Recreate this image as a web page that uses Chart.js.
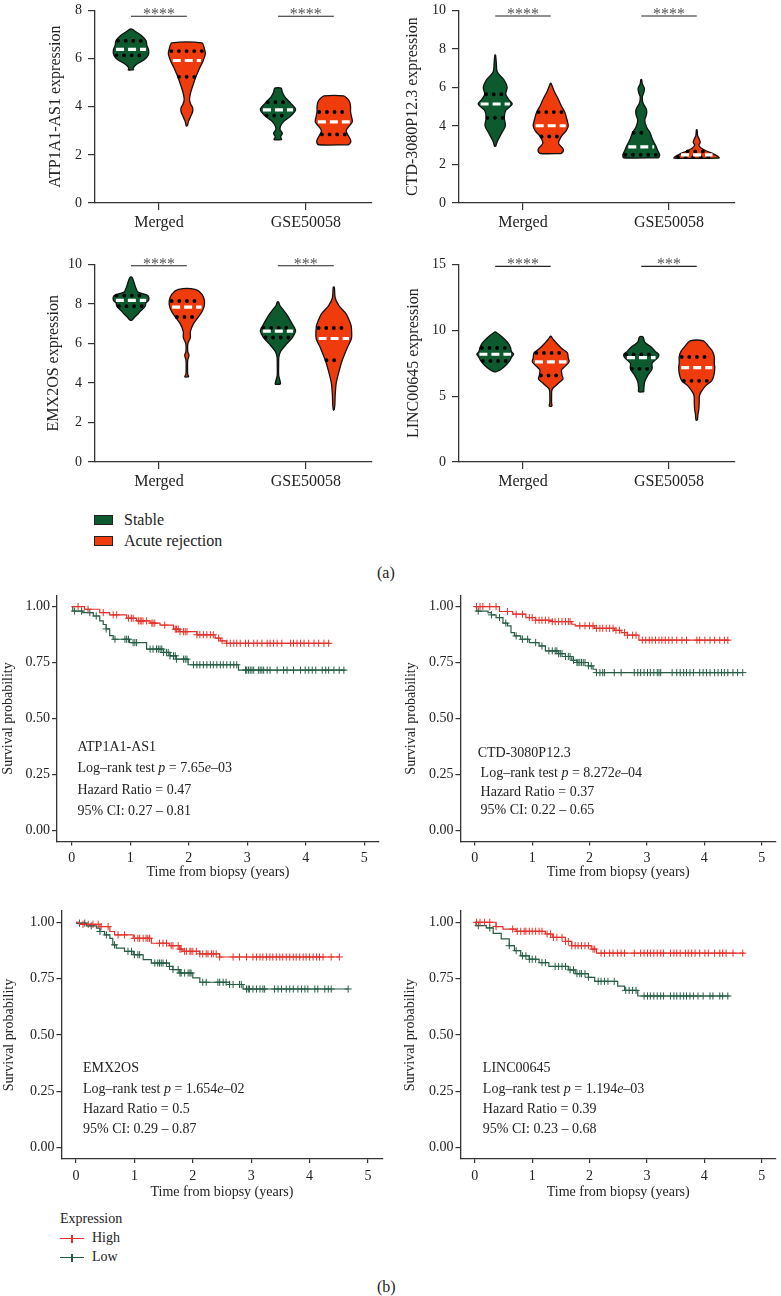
<!DOCTYPE html>
<html>
<head>
<meta charset="utf-8">
<script src="https://cdn.jsdelivr.net/npm/chart.js@4"></script>
<style>
  body { margin: 0; width: 781px; height: 1296px; position: relative; overflow: hidden; background: #fff;
         font-family: 'Liberation Serif', 'Times New Roman', serif; color: #222; }
  canvas { position: absolute; }
  .lbl { position: absolute; white-space: nowrap; line-height: 1; }
  .box { position: absolute; width: 19px; height: 10px; border: 1px solid #222; box-sizing: border-box; }
  .key { position: absolute; width: 24px; height: 1.2px; }
  .key::after { content: ''; position: absolute; left: 11.4px; top: -3.4px; width: 1.2px; height: 8px; background: inherit; }
</style>
</head>
<body>
<canvas id="vAtp"></canvas>
<canvas id="vCtd"></canvas>
<canvas id="vEmx"></canvas>
<canvas id="vLinc"></canvas>
<canvas id="kAtp"></canvas>
<canvas id="kCtd"></canvas>
<canvas id="kEmx"></canvas>
<canvas id="kLinc"></canvas>

<div class="box" style="left:94px;top:515px;background:#0c5a2d"></div>
<div class="lbl" style="left:124px;top:512px;font-size:16px">Stable</div>
<div class="box" style="left:94px;top:536px;background:#f03c0c"></div>
<div class="lbl" style="left:124px;top:533px;font-size:16px">Acute rejection</div>
<div class="lbl" style="left:377px;top:565px;font-size:16px">(a)</div>

<div class="lbl" style="left:60px;top:1212px;font-size:14px">Expression</div>
<div class="key" style="left:60px;top:1238px;background:#e5322b"></div>
<div class="lbl" style="left:92px;top:1231px;font-size:14px">High</div>
<div class="key" style="left:60px;top:1257px;background:#275d45"></div>
<div class="lbl" style="left:92px;top:1250px;font-size:14px">Low</div>
<div class="lbl" style="left:377px;top:1279px;font-size:16px">(b)</div>

<script>
const FONT = "'Liberation Serif', 'Times New Roman', serif";
const STABLE = '#0c5a2d', ACUTE = '#f03c0c';
const HIGH = '#e5322b', LOW = '#275d45';

// ---------------- violin data: levels (bottom -> top) and relative half-width ----------------
const groups = ['Merged', 'GSE50058'];

// ATP1A1-AS1
const atpMsY = [5.53, 5.6, 5.75, 5.95, 6.15, 6.35, 6.55, 6.75, 6.95, 7.1, 7.22];
const atpMsD = [0.15, 0.12, 0.3, 0.75, 0.98, 1.0, 0.9, 0.85, 0.6, 0.3, 0.05];
const atpMaY = [3.2, 3.4, 3.6, 3.8, 3.95, 4.1, 4.3, 4.6, 4.9, 5.25, 5.6, 5.9, 6.2, 6.45, 6.65];
const atpMaD = [0.03, 0.1, 0.22, 0.33, 0.33, 0.22, 0.15, 0.22, 0.35, 0.52, 0.72, 0.92, 1.05, 0.98, 0.85];
const atpGsY = [2.63, 2.75, 2.9, 3.05, 3.2, 3.4, 3.63, 3.88, 4.15, 4.4, 4.6, 4.77];
const atpGsD = [0.22, 0.15, 0.25, 0.12, 0.15, 0.35, 0.75, 1.0, 0.72, 0.4, 0.25, 0.18];
const atpGaY = [2.42, 2.55, 2.7, 2.85, 3.0, 3.15, 3.37, 3.6, 3.8, 4.0, 4.2, 4.35, 4.45];
const atpGaD = [0.85, 0.97, 0.9, 0.78, 0.7, 0.82, 1.05, 1.0, 0.95, 0.95, 0.9, 0.75, 0.55];
const atpQuart = [[6.13, 6.38, 6.74], [5.24, 5.92, 6.31], [3.63, 3.87, 4.19], [2.85, 3.37, 3.78]];
const atpYTicks = [0, 2, 4, 6, 8];
const atpStars = ['****', '****'];
const atpBarY = 7.76;

// CTD-3080P12.3
const ctdMsY = [2.94, 3.2, 3.6, 4.0, 4.42, 4.8, 5.14, 5.4, 5.65, 6.0, 6.4, 6.8, 7.3, 7.68];
const ctdMsD = [0.03, 0.12, 0.35, 0.58, 0.52, 0.6, 0.97, 0.75, 0.6, 0.68, 0.5, 0.12, 0.06, 0.02];
const ctdMaY = [2.57, 2.7, 2.85, 3.1, 3.45, 3.75, 4.0, 4.35, 4.72, 5.05, 5.4, 5.8, 6.21];
const ctdMaD = [0.6, 0.72, 0.68, 0.45, 0.6, 0.88, 1.0, 0.92, 0.8, 0.6, 0.43, 0.2, 0.02];
const ctdGsY = [2.35, 2.5, 2.7, 2.91, 3.1, 3.35, 3.65, 3.95, 4.3, 4.6, 4.85, 5.2, 5.5, 5.75, 5.95, 6.2, 6.41];
const ctdGsD = [1.0, 1.05, 0.95, 0.86, 0.75, 0.62, 0.5, 0.3, 0.2, 0.3, 0.3, 0.1, 0.06, 0.15, 0.18, 0.06, 0.02];
const ctdGaY = [2.33, 2.42, 2.55, 2.7, 2.85, 3.0, 3.15, 3.3, 3.5, 3.8];
const ctdGaD = [1.3, 1.2, 0.95, 0.55, 0.25, 0.12, 0.2, 0.15, 0.05, 0.02];
const ctdQuart = [[4.42, 5.14, 5.65], [3.45, 4.01, 4.72], [2.5, 2.91, 3.65], [2.38, 2.5, 2.68]];
const ctdYTicks = [0, 2, 4, 6, 8, 10];
const ctdStars = ['****', '****'];
const ctdBarY = 9.71;

// EMX2OS
const emxMsY = [7.17, 7.3, 7.45, 7.6, 7.88, 8.05, 8.18, 8.42, 8.6, 8.75, 8.95, 9.15, 9.36];
const emxMsD = [0.05, 0.18, 0.35, 0.5, 0.8, 0.85, 1.0, 0.95, 0.4, 0.3, 0.22, 0.15, 0.05];
const emxMaY = [4.31, 4.45, 4.8, 5.15, 5.4, 5.6, 6.0, 6.3, 6.6, 7.0, 7.34, 7.6, 7.84, 8.15, 8.5, 8.74];
const emxMaD = [0.12, 0.05, 0.04, 0.05, 0.12, 0.05, 0.06, 0.2, 0.2, 0.38, 0.66, 0.85, 0.97, 1.0, 0.85, 0.47];
const emxGsY = [3.94, 4.1, 4.4, 4.9, 5.3, 5.6, 6.0, 6.3, 6.62, 6.78, 7.0, 7.4, 7.7, 7.9, 8.1];
const emxGsD = [0.15, 0.12, 0.04, 0.04, 0.05, 0.15, 0.52, 0.82, 1.0, 0.95, 0.8, 0.55, 0.3, 0.12, 0.03];
const emxGaY = [2.63, 2.9, 3.4, 4.0, 4.6, 5.15, 5.8, 6.25, 6.78, 7.0, 7.5, 7.9, 8.3, 8.85];
const emxGaD = [0.02, 0.06, 0.08, 0.14, 0.3, 0.48, 0.77, 1.0, 1.0, 0.95, 0.7, 0.3, 0.08, 0.03];
const emxQuart = [[7.88, 8.18, 8.42], [7.34, 7.84, 8.15], [6.3, 6.62, 6.78], [5.15, 6.25, 6.78]];
const emxYTicks = [0, 2, 4, 6, 8, 10];
const emxStars = ['****', '***'];
const emxBarY = 9.93;

// LINC00645
const lincMsY = [6.84, 7.0, 7.3, 7.67, 8.0, 8.18, 8.4, 8.66, 9.0, 9.3, 9.6, 9.87];
const lincMsD = [0.05, 0.3, 0.58, 0.82, 0.95, 1.05, 0.92, 0.88, 0.75, 0.55, 0.3, 0.03];
const lincMaY = [4.24, 4.5, 5.0, 5.4, 5.6, 5.8, 6.0, 6.3, 6.57, 7.0, 7.3, 7.6, 7.9, 8.28, 8.6, 9.0, 9.3, 9.55];
const lincMaD = [0.08, 0.05, 0.05, 0.06, 0.12, 0.3, 0.45, 0.7, 0.65, 0.62, 0.85, 1.05, 1.0, 0.95, 0.65, 0.35, 0.15, 0.02];
const lincGsY = [5.33, 5.6, 6.1, 6.6, 7.07, 7.5, 7.93, 8.16, 8.4, 8.7, 9.1, 9.5];
const lincGsD = [0.15, 0.15, 0.2, 0.38, 0.62, 0.62, 0.95, 1.0, 0.8, 0.6, 0.2, 0.1];
const lincGaY = [3.18, 3.6, 4.0, 4.5, 5.0, 5.3, 5.8, 6.16, 6.6, 7.17, 7.5, 7.98, 8.4, 8.8, 9.19];
const lincGaD = [0.04, 0.07, 0.12, 0.14, 0.15, 0.24, 0.52, 0.85, 0.98, 1.03, 1.0, 1.0, 0.9, 0.66, 0.38];
const lincQuart = [[7.67, 8.18, 8.66], [6.57, 7.6, 8.28], [7.07, 7.93, 8.16], [6.16, 7.17, 7.98]];
const lincYTicks = [0, 5, 10, 15];
const lincStars = ['****', '***'];
const lincBarY = 14.85;

// ---------------- survival data: drop times, survival after drop, censor times ----------------
const kmXTicks = [0, 1, 2, 3, 4, 5];
const kmYTicks = [0, 0.25, 0.5, 0.75, 1];

const atpHighT = [0.22, 0.48, 0.65, 0.94, 1.11, 1.34, 1.51, 1.74, 1.85, 2.14, 2.45, 2.54, 2.65];
const atpHighS = [0.988, 0.973, 0.963, 0.948, 0.936, 0.926, 0.917, 0.899, 0.888, 0.874, 0.859, 0.847, 0.836];
const atpHighEnd = 4.42;
const atpHighCens = [0.11, 0.28, 0.54, 0.71, 0.77, 0.97, 1.02, 1.05, 1.14, 1.17, 1.19, 1.22, 1.28, 1.37, 1.39, 1.42, 1.59, 1.77, 1.79, 1.82, 1.85, 1.91, 1.94, 1.97, 2.14, 2.19, 2.25, 2.31, 2.37, 2.42, 2.51, 2.57, 2.65, 2.71, 2.77, 2.82, 2.88, 2.97, 3.02, 3.11, 3.17, 3.25, 3.34, 3.39, 3.45, 3.51, 3.59, 3.74, 3.79, 3.85, 3.91, 3.97, 4.05, 4.14, 4.22, 4.31, 4.39];
const atpLowT = [0.02, 0.19, 0.37, 0.48, 0.54, 0.59, 0.65, 0.71, 0.99, 1.28, 1.57, 1.68, 1.79, 1.99, 2.85];
const atpLowS = [0.98, 0.973, 0.958, 0.936, 0.92, 0.9, 0.87, 0.854, 0.839, 0.81, 0.795, 0.78, 0.765, 0.74, 0.716];
const atpLowEnd = 4.68;
const atpLowCens = [0.05, 0.17, 0.31, 0.42, 0.59, 0.74, 0.91, 0.94, 0.97, 1.05, 1.08, 1.11, 1.34, 1.39, 1.45, 1.48, 1.51, 1.54, 1.57, 1.62, 1.65, 1.68, 1.74, 1.77, 1.79, 1.91, 1.94, 1.97, 2.08, 2.14, 2.19, 2.25, 2.31, 2.37, 2.42, 2.48, 2.54, 2.59, 2.65, 2.71, 2.77, 2.82, 2.97, 2.99, 3.02, 3.05, 3.08, 3.11, 3.19, 3.22, 3.25, 3.28, 3.34, 3.39, 3.51, 3.62, 3.68, 3.79, 3.91, 3.99, 4.05, 4.11, 4.17, 4.28, 4.34, 4.39, 4.48, 4.57, 4.65];
const atpStats = ['ATP1A1-AS1', '7.65', '03', '0.47', '0.27', '0.81'];

const ctdHighT = [0.43, 0.66, 0.89, 1.06, 1.35, 1.69, 1.75, 2.09, 2.43, 2.55, 2.66, 2.86];
const ctdHighS = [0.978, 0.966, 0.951, 0.939, 0.933, 0.921, 0.914, 0.903, 0.894, 0.884, 0.872, 0.85];
const ctdHighEnd = 4.44;
const ctdHighCens = [0.03, 0.09, 0.14, 0.26, 0.37, 0.57, 0.72, 0.83, 0.95, 1.0, 1.06, 1.12, 1.17, 1.23, 1.29, 1.35, 1.4, 1.46, 1.52, 1.58, 1.63, 1.66, 1.83, 1.92, 2.0, 2.06, 2.12, 2.18, 2.23, 2.29, 2.35, 2.41, 2.46, 2.52, 2.61, 2.66, 2.75, 2.81, 2.92, 2.98, 3.04, 3.09, 3.15, 3.21, 3.26, 3.32, 3.38, 3.44, 3.52, 3.61, 3.69, 3.87, 3.92, 4.01, 4.1, 4.18, 4.27, 4.35, 4.41];
const ctdLowT = [0.03, 0.23, 0.29, 0.37, 0.49, 0.57, 0.63, 0.69, 0.8, 0.95, 1.12, 1.23, 1.46, 1.58, 1.69, 1.78, 1.98, 2.06, 2.12];
const ctdLowS = [0.98, 0.973, 0.963, 0.951, 0.926, 0.914, 0.884, 0.869, 0.854, 0.839, 0.824, 0.802, 0.79, 0.777, 0.76, 0.75, 0.735, 0.72, 0.705];
const ctdLowEnd = 4.67;
const ctdLowCens = [0.06, 0.29, 0.43, 0.54, 0.72, 0.83, 0.92, 1.06, 1.17, 1.29, 1.35, 1.4, 1.43, 1.46, 1.49, 1.52, 1.58, 1.63, 1.66, 1.72, 1.78, 1.8, 1.83, 1.86, 1.89, 1.92, 1.98, 2.03, 2.12, 2.18, 2.23, 2.26, 2.43, 2.55, 2.78, 2.84, 2.89, 2.95, 3.01, 3.06, 3.12, 3.18, 3.21, 3.24, 3.44, 3.52, 3.58, 3.64, 3.69, 3.75, 3.81, 3.92, 3.98, 4.04, 4.1, 4.18, 4.24, 4.3, 4.35, 4.41, 4.5, 4.58, 4.67];
const ctdStats = ['CTD-3080P12.3', '8.272', '04', '0.37', '0.22', '0.65'];

const emxHighT = [0.06, 0.41, 0.58, 0.66, 0.98, 1.29, 1.6, 1.78, 1.83, 2.12, 2.46];
const emxHighS = [0.991, 0.981, 0.959, 0.944, 0.929, 0.907, 0.896, 0.881, 0.871, 0.86, 0.846];
const emxHighEnd = 4.51;
const emxHighCens = [0.12, 0.21, 0.29, 0.38, 0.43, 0.55, 0.72, 0.83, 1.0, 1.06, 1.09, 1.15, 1.2, 1.23, 1.26, 1.43, 1.49, 1.55, 1.63, 1.66, 1.75, 1.78, 1.8, 1.86, 1.89, 1.95, 1.97, 2.0, 2.06, 2.12, 2.17, 2.23, 2.26, 2.32, 2.35, 2.4, 2.46, 2.69, 2.8, 2.92, 3.03, 3.09, 3.15, 3.2, 3.26, 3.32, 3.37, 3.43, 3.49, 3.54, 3.6, 3.66, 3.72, 3.77, 3.83, 3.89, 3.94, 4.0, 4.06, 4.12, 4.17, 4.23, 4.37, 4.51];
const emxLowT = [0.01, 0.18, 0.35, 0.41, 0.49, 0.58, 0.63, 0.69, 0.83, 0.98, 1.15, 1.29, 1.6, 1.66, 1.78, 2.0, 2.12, 2.63, 2.86];
const emxLowS = [0.996, 0.984, 0.974, 0.959, 0.944, 0.929, 0.9, 0.885, 0.871, 0.856, 0.834, 0.819, 0.804, 0.79, 0.775, 0.753, 0.734, 0.724, 0.704];
const emxLowEnd = 4.66;
const emxLowCens = [0.06, 0.15, 0.26, 0.41, 0.52, 0.66, 0.89, 0.95, 1.0, 1.06, 1.09, 1.35, 1.4, 1.43, 1.46, 1.49, 1.55, 1.6, 1.66, 1.75, 1.78, 1.8, 1.86, 1.92, 1.95, 1.97, 2.17, 2.23, 2.43, 2.46, 2.52, 2.57, 2.63, 2.69, 2.8, 2.83, 2.92, 2.95, 2.97, 3.03, 3.09, 3.15, 3.2, 3.23, 3.4, 3.46, 3.52, 3.6, 3.66, 3.72, 3.8, 3.86, 3.92, 3.97, 4.09, 4.14, 4.26, 4.32, 4.37, 4.66];
const emxStats = ['EMX2OS', '1.654', '02', '0.5', '0.29', '0.87'];

const lincHighT = [0.37, 0.49, 0.72, 1.23, 1.35, 1.58, 1.69, 2.03, 2.12];
const lincHighS = [0.981, 0.97, 0.96, 0.948, 0.933, 0.915, 0.896, 0.881, 0.863];
const lincHighEnd = 4.7;
const lincHighCens = [0.03, 0.09, 0.17, 0.26, 0.37, 0.66, 0.74, 0.8, 0.86, 0.89, 0.95, 1.0, 1.06, 1.12, 1.17, 1.26, 1.32, 1.37, 1.43, 1.52, 1.58, 1.63, 1.69, 1.75, 1.8, 1.86, 1.92, 1.98, 2.06, 2.09, 2.2, 2.26, 2.35, 2.41, 2.49, 2.55, 2.61, 2.78, 2.89, 2.95, 3.01, 3.06, 3.12, 3.18, 3.24, 3.29, 3.41, 3.47, 3.52, 3.58, 3.67, 3.72, 3.78, 3.84, 3.92, 4.01, 4.07, 4.18, 4.27, 4.32, 4.38, 4.5, 4.67];
const lincLowT = [0.02, 0.2, 0.32, 0.46, 0.6, 0.69, 0.8, 0.95, 1.12, 1.29, 1.63, 1.75, 1.98, 2.09, 2.49, 2.61, 2.84];
const lincLowS = [0.985, 0.975, 0.951, 0.926, 0.896, 0.874, 0.851, 0.836, 0.821, 0.804, 0.789, 0.772, 0.756, 0.738, 0.717, 0.698, 0.673];
const lincLowEnd = 4.44;
const lincLowCens = [0.06, 0.26, 0.6, 0.72, 0.83, 0.89, 0.95, 1.0, 1.06, 1.17, 1.23, 1.4, 1.46, 1.52, 1.58, 1.66, 1.72, 1.78, 1.83, 1.86, 1.92, 1.98, 2.15, 2.2, 2.26, 2.32, 2.43, 2.63, 2.69, 2.75, 2.81, 2.95, 3.01, 3.06, 3.12, 3.18, 3.24, 3.29, 3.41, 3.47, 3.52, 3.58, 3.64, 3.69, 3.75, 3.81, 3.89, 3.98, 4.1, 4.15, 4.27, 4.32, 4.41];
const lincStats = ['LINC00645', '1.194', '03', '0.39', '0.23', '0.68'];

// ---------------- helpers ----------------
Chart.defaults.font.family = FONT;
Chart.defaults.color = '#222';

// put a canvas at box and return padding / axis sizes so the plot area lands on area
function frame(id, box, area) {
  const c = document.getElementById(id);
  c.width = box.w; c.height = box.h;
  c.style.left = box.x + 'px'; c.style.top = box.y + 'px';
  return {
    canvas: c,
    padding: { left: 0, top: area.top - box.y, right: box.x + box.w - area.right, bottom: 0 },
    yWidth: area.left - box.x,
    xHeight: box.y + box.h - area.bottom
  };
}

const baseOptions = f => ({
  responsive: false,
  animation: false,
  events: [],
  layout: { padding: f.padding },
  plugins: { legend: { display: false }, tooltip: { enabled: false } }
});

const axisGrid = (len) => ({ display: true, drawOnChartArea: false, drawTicks: true, tickLength: len, color: '#333', lineWidth: 1.2 });
const axisBorder = { display: true, color: '#333', width: 1.3 };

// ---------------- violin panels ----------------
const HALF = 0.12;          // max half-width in x units
const SIDE = [-0.19, 0.19]; // stable left, acute right

function outline(cx, ys, ds) {
  const right = ys.map((y, i) => ({ x: cx + ds[i] * HALF, y }));
  const left = ys.map((y, i) => ({ x: cx - ds[i] * HALF, y })).reverse();
  return right.concat(left, [right[0]]);
}
function widthAt(ys, ds, v) {
  for (let i = 1; i < ys.length; i++) {
    if (v <= ys[i]) { const k = (v - ys[i - 1]) / (ys[i] - ys[i - 1]); return ds[i - 1] + k * (ds[i] - ds[i - 1]); }
  }
  return ds[ds.length - 1];
}

function violinPanel(id, box, area, xr, title, violins, quart, yTicks, stars, barY) {
  const f = frame(id, box, area);
  const sets = [];
  violins.forEach((v, k) => {
    const g = k >> 1, side = k & 1;
    const cx = g + 1 + SIDE[side];
    sets.push({ data: outline(cx, v[0], v[1]), fill: 'shape', backgroundColor: side ? ACUTE : STABLE,
      borderColor: '#111', borderWidth: 1.3, pointRadius: 0, tension: 0.3, order: 3 });
    quart[k].forEach((q, j) => {
      const w = widthAt(v[0], v[1], q) * HALF * 0.86;
      const med = j === 1;
      sets.push({ data: [{ x: cx - w, y: q }, { x: cx + w, y: q }], fill: false, pointRadius: 0,
        borderColor: med ? '#fff' : '#000', borderWidth: med ? 3.2 : 3.9,
        borderDash: med ? [8, 4] : [0, 7.6], borderCapStyle: med ? 'butt' : 'round', order: med ? 1 : 2 });
    });
  });
  groups.forEach((_, g) => {
    sets.push({ data: [{ x: g + 1 + SIDE[0], y: barY }, { x: g + 1 + SIDE[1], y: barY }], fill: false,
      pointRadius: 0, borderColor: '#222', borderWidth: 1.1, order: 0 });
  });

  const starPlugin = {
    id: 'stars',
    afterDatasetsDraw(chart) {
      const { ctx, scales: { x, y } } = chart;
      ctx.save();
      ctx.font = `16px ${FONT}`;
      ctx.fillStyle = '#555';
      ctx.textAlign = 'center';
      ctx.textBaseline = 'alphabetic';
      stars.forEach((s, i) => ctx.fillText(s, x.getPixelForValue(i + 1), y.getPixelForValue(barY) + 3));
      ctx.restore();
    }
  };

  const opts = baseOptions(f);
  opts.scales = {
    x: {
      type: 'linear', min: xr[0], max: xr[1],
      afterFit: s => { s.height = f.xHeight; },
      afterBuildTicks: s => { s.ticks = groups.map((_, i) => ({ value: i + 1 })); },
      ticks: { callback: (v, i) => groups[i], font: { size: 16 }, color: '#222', padding: 3.5, maxRotation: 0, autoSkip: false },
      grid: axisGrid(7), border: axisBorder
    },
    y: {
      min: yTicks[0], max: yTicks[yTicks.length - 1],
      afterFit: s => { s.width = f.yWidth; },
      afterBuildTicks: s => { s.ticks = yTicks.map(v => ({ value: v })); },
      ticks: { font: { size: 14 }, color: '#222', padding: 6 },
      grid: axisGrid(7), border: axisBorder,
      title: { display: true, text: title, font: { size: 16 }, color: '#222', padding: { top: 0, bottom: 0 } }
    }
  };
  new Chart(f.canvas, { type: 'line', data: { datasets: sets }, options: opts, plugins: [starPlugin] });
}

violinPanel('vAtp', { x: 46, y: -4, w: 344, h: 240 }, { left: 95, top: 6, right: 372, bottom: 203 }, [0.565, 2.45],
  'ATP1A1-AS1 expression', [[atpMsY, atpMsD], [atpMaY, atpMaD], [atpGsY, atpGsD], [atpGaY, atpGaD]],
  atpQuart, atpYTicks, atpStars, atpBarY);
violinPanel('vCtd', { x: 403, y: -4, w: 378, h: 240 }, { left: 459, top: 6, right: 735, bottom: 203 }, [0.562, 2.452],
  'CTD-3080P12.3 expression', [[ctdMsY, ctdMsD], [ctdMaY, ctdMaD], [ctdGsY, ctdGsD], [ctdGaY, ctdGaD]],
  ctdQuart, ctdYTicks, ctdStars, ctdBarY);
violinPanel('vEmx', { x: 44, y: 250, w: 346, h: 250 }, { left: 95, top: 264, right: 372, bottom: 462 }, [0.565, 2.45],
  'EMX2OS expression', [[emxMsY, emxMsD], [emxMaY, emxMaD], [emxGsY, emxGsD], [emxGaY, emxGaD]],
  emxQuart, emxYTicks, emxStars, emxBarY);
violinPanel('vLinc', { x: 404, y: 250, w: 377, h: 250 }, { left: 459, top: 264, right: 735, bottom: 462 }, [0.562, 2.452],
  'LINC00645 expression', [[lincMsY, lincMsD], [lincMaY, lincMaD], [lincGsY, lincGsD], [lincGaY, lincGaD]],
  lincQuart, lincYTicks, lincStars, lincBarY);

// ---------------- Kaplan-Meier panels ----------------
function steps(times, surv, end) {
  const pts = [{ x: 0, y: 1 }];
  times.forEach((t, i) => pts.push({ x: t, y: surv[i] }));
  pts.push({ x: end, y: surv[surv.length - 1] });
  return pts;
}
function censors(times, surv, cens) {
  return cens.map(c => {
    let s = 1;
    times.forEach((t, i) => { if (t <= c) s = surv[i]; });
    return { x: c, y: s };
  });
}
function statRuns(s) {
  return [
    [[s[0], false]],
    [['Log–rank test ', false], ['p', true], [' = ' + s[1], false], ['e', true], ['–' + s[2], false]],
    [['Hazard Ratio = ' + s[3], false]],
    [['95% CI: ' + s[4] + ' – ' + s[5], false]]
  ];
}

function kmPanel(id, box, area, high, low, stats, notePos) {
  const f = frame(id, box, area);
  const curve = (d, col) => ({ data: steps(d[0], d[1], d[2]), stepped: 'before', fill: false, pointRadius: 0,
    borderColor: col, borderWidth: 1.2 });
  const marks = (d, col) => ({ data: censors(d[0], d[1], d[3]), showLine: false, fill: false, pointStyle: 'cross',
    pointRadius: 3.6, pointBorderWidth: 1, pointBorderColor: col, pointBackgroundColor: col });
  const sets = [curve(high, HIGH), marks(high, HIGH), curve(low, LOW), marks(low, LOW)];

  const runs = statRuns(stats);
  const notePlugin = {
    id: 'notes',
    afterDatasetsDraw(chart) {
      const { ctx, scales: { x, y } } = chart;
      ctx.save();
      ctx.fillStyle = '#222';
      ctx.textBaseline = 'middle';
      runs.forEach((line, i) => {
        let px = x.getPixelForValue(notePos[i][0]);
        const py = y.getPixelForValue(notePos[i][1]);
        line.forEach(([txt, it]) => {
          ctx.font = `${it ? 'italic ' : ''}14px ${FONT}`;
          ctx.fillText(txt, px, py);
          px += ctx.measureText(txt).width;
        });
      });
      ctx.restore();
    }
  };

  const opts = baseOptions(f);
  opts.scales = {
    x: {
      type: 'linear', min: -0.25, max: 5.25,
      afterFit: s => { s.height = f.xHeight; },
      afterBuildTicks: s => { s.ticks = kmXTicks.map(v => ({ value: v })); },
      ticks: { font: { size: 14 }, color: '#222', padding: 4.5, maxRotation: 0 },
      grid: axisGrid(4), border: axisBorder,
      title: { display: true, text: 'Time from biopsy (years)', font: { size: 14 }, color: '#222', padding: { top: 0, bottom: 0 } }
    },
    y: {
      min: -0.05, max: 1.05,
      afterFit: s => { s.width = f.yWidth; },
      afterBuildTicks: s => { s.ticks = kmYTicks.map(v => ({ value: v })); },
      ticks: { font: { size: 14 }, color: '#222', padding: 2, callback: v => v.toFixed(2) },
      grid: axisGrid(5), border: axisBorder,
      title: { display: true, text: 'Survival probability', font: { size: 14 }, color: '#222', padding: { top: 0, bottom: 0 } }
    }
  };
  new Chart(f.canvas, { type: 'line', data: { datasets: sets }, options: opts, plugins: [notePlugin] });
}

kmPanel('kAtp', { x: 0, y: 585, w: 390, h: 296 }, { left: 57, top: 594.5, right: 379, bottom: 841.5 },
  [atpHighT, atpHighS, atpHighEnd, atpHighCens], [atpLowT, atpLowS, atpLowEnd, atpLowCens], atpStats,
  [[0.1, 0.371], [0.1, 0.278], [0.1, 0.179], [0.1, 0.086]]);
kmPanel('kCtd', { x: 403, y: 585, w: 378, h: 296 }, { left: 460.5, top: 594.5, right: 780.6, bottom: 841.5 },
  [ctdHighT, ctdHighS, ctdHighEnd, ctdHighCens], [ctdLowT, ctdLowS, ctdLowEnd, ctdLowCens], ctdStats,
  [[0.05, 0.345], [0.1, 0.255], [0.1, 0.171], [0.1, 0.088]]);
kmPanel('kEmx', { x: 1, y: 900, w: 389, h: 301 }, { left: 61.4, top: 911, right: 382.6, bottom: 1159 },
  [emxHighT, emxHighS, emxHighEnd, emxHighCens], [emxLowT, emxLowS, emxLowEnd, emxLowCens], emxStats,
  [[0.12, 0.352], [0.12, 0.26], [0.12, 0.17], [0.12, 0.081]]);
kmPanel('kLinc', { x: 402, y: 900, w: 379, h: 301 }, { left: 460.5, top: 911, right: 780.6, bottom: 1159 },
  [lincHighT, lincHighS, lincHighEnd, lincHighCens], [lincLowT, lincLowS, lincLowEnd, lincLowCens], lincStats,
  [[0.14, 0.352], [0.14, 0.26], [0.14, 0.17], [0.14, 0.081]]);
</script>
</body>
</html>
